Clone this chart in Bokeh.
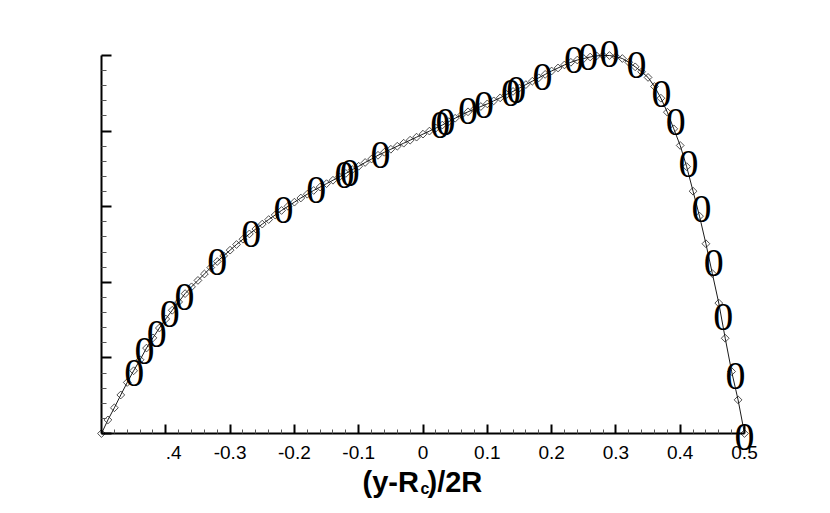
from bokeh.plotting import figure
from bokeh.models import ColumnDataSource, LabelSet, Label, FixedTicker, CustomJSTickFormatter
from bokeh.core.properties import value
from bokeh.embed import file_html
from bokeh.resources import INLINE
import math

# ---- data: computed profile (line with diamonds) ----
x_line = [-0.50, -0.49, -0.48, -0.47, -0.46, -0.45, -0.44, -0.43, -0.42, -0.41,
          -0.40, -0.39, -0.38, -0.37, -0.36, -0.35, -0.34, -0.33, -0.32, -0.31,
          -0.30, -0.29, -0.28, -0.27, -0.26, -0.25, -0.24, -0.23, -0.22, -0.21,
          -0.20, -0.19, -0.18, -0.17, -0.16, -0.15, -0.14, -0.13, -0.12, -0.11,
          -0.10, -0.09, -0.08, -0.07, -0.06, -0.05, -0.04, -0.03, -0.02, -0.01,
          0.00, 0.01, 0.02, 0.03, 0.04, 0.05, 0.06, 0.07, 0.08, 0.09,
          0.10, 0.11, 0.12, 0.13, 0.14, 0.15, 0.16, 0.17, 0.18, 0.19,
          0.20, 0.21, 0.22, 0.23, 0.24, 0.25, 0.26, 0.27, 0.28, 0.29,
          0.30, 0.31, 0.32, 0.33, 0.34, 0.35, 0.36, 0.37, 0.38, 0.39,
          0.40, 0.41, 0.42, 0.43, 0.44, 0.45, 0.46, 0.47, 0.48, 0.49, 0.50]
u_line = [0.000, 0.036, 0.068, 0.102, 0.135, 0.166, 0.195, 0.226, 0.253, 0.279,
          0.303, 0.326, 0.348, 0.370, 0.388, 0.405, 0.422, 0.439, 0.455, 0.470,
          0.485, 0.500, 0.514, 0.528, 0.541, 0.554, 0.566, 0.578, 0.590, 0.601,
          0.612, 0.623, 0.633, 0.643, 0.652, 0.661, 0.670, 0.679, 0.688, 0.698,
          0.707, 0.717, 0.726, 0.736, 0.744, 0.752, 0.760, 0.768, 0.776, 0.784,
          0.792, 0.800, 0.808, 0.816, 0.825, 0.834, 0.843, 0.851, 0.858, 0.865,
          0.872, 0.880, 0.888, 0.897, 0.905, 0.914, 0.923, 0.932, 0.941, 0.950,
          0.959, 0.967, 0.975, 0.982, 0.988, 0.992, 0.996, 0.999, 1.000, 1.000,
          0.997, 0.992, 0.982, 0.970, 0.957, 0.942, 0.918, 0.887, 0.850, 0.806,
          0.762, 0.706, 0.641, 0.575, 0.502, 0.423, 0.345, 0.252, 0.164, 0.089, 0.000]

# ---- data: symbol series drawn with the character "0" ----
x_sym = [-0.449, -0.433, -0.414, -0.394, -0.371, -0.320, -0.267, -0.217, -0.166,
         -0.122, -0.114, -0.066, 0.027, 0.035, 0.070, 0.095, 0.137, 0.145, 0.186,
         0.235, 0.257, 0.290, 0.332, 0.371, 0.393, 0.413, 0.433, 0.452, 0.467,
         0.486, 0.500]
u_sym = [0.159, 0.217, 0.262, 0.315, 0.360, 0.455, 0.529, 0.590, 0.643,
         0.685, 0.690, 0.738, 0.817, 0.823, 0.854, 0.870, 0.902, 0.910, 0.944,
         0.987, 0.995, 1.005, 0.974, 0.897, 0.823, 0.714, 0.593, 0.452, 0.307,
         0.151, -0.008]
sym_text = ["0"] * len(x_sym)

x_major = [-0.4, -0.3, -0.2, -0.1, 0.0, 0.1, 0.2, 0.3, 0.4, 0.5]
x_minor = [-0.48, -0.46, -0.44, -0.42, -0.38, -0.36, -0.34, -0.32, -0.28, -0.26,
           -0.24, -0.22, -0.18, -0.16, -0.14, -0.12, -0.08, -0.06, -0.04, -0.02,
           0.02, 0.04, 0.06, 0.08, 0.12, 0.14, 0.16, 0.18, 0.22, 0.24, 0.26, 0.28,
           0.32, 0.34, 0.36, 0.38, 0.42, 0.44, 0.46, 0.48]
y_major = [0.0, 0.2, 0.4, 0.6, 0.8, 1.0]
y_minor = [0.04, 0.08, 0.12, 0.16, 0.24, 0.28, 0.32, 0.36, 0.44, 0.48, 0.52, 0.56,
           0.64, 0.68, 0.72, 0.76, 0.84, 0.88, 0.92, 0.96]

# ---- layout (pixel positions in the figure) ----
W, H = 830, 513
AX_L, AX_R, AX_B, AX_T = 101, 744, 433, 55      # axis extents
FR_L, FR_R, FR_T, FR_B = 60, 790, 20, 513       # plotting frame
xpp = 1.0 / (AX_R - AX_L)
ypp = 1.0 / (AX_B - AX_T)
x_start = -0.5 - (AX_L - FR_L) * xpp
x_end = 0.5 + (FR_R - AX_R) * xpp
y_start = 0.0 - (FR_B - AX_B) * ypp
y_end = 1.0 + (AX_T - FR_T) * ypp


def xd(px):
    return -0.5 + (px - AX_L) * xpp


def yd(py):
    return (AX_B - py) * ypp


p = figure(width=W, height=H, output_backend="svg", toolbar_location=None,
           x_range=(x_start, x_end), y_range=(y_start, y_end), title=None,
           min_border_left=FR_L, min_border_right=W - FR_R,
           min_border_top=FR_T, min_border_bottom=H - FR_B)
p.outline_line_color = None
p.xgrid.visible = False
p.ygrid.visible = False
p.background_fill_color = "white"
p.border_fill_color = "white"

src_line = ColumnDataSource(dict(x=x_line, y=u_line))
p.line("x", "y", source=src_line, line_color="black", line_width=0.9)
p.scatter("x", "y", source=src_line, marker="square", angle=math.pi / 4, size=5.5,
          fill_color=None, line_color="#222222", line_width=0.8)

src_sym = ColumnDataSource(dict(x=x_sym, y=u_sym, t=sym_text))
p.add_layout(LabelSet(x="x", y="y", text="t", source=src_sym,
                      text_font=value("Liberation Serif"), text_font_size="40px",
                      text_align="center", text_baseline="middle", text_color="black"))

# x axis
xa = p.xaxis[0]
xa.fixed_location = 0.0
xa.bounds = (-0.5, 0.5)
xa.ticker = FixedTicker(ticks=x_major, minor_ticks=x_minor)
xa.formatter = CustomJSTickFormatter(code="""
if (Math.abs(tick) < 1e-9) return "0";
if (Math.abs(tick + 0.4) < 1e-9) return "\\u00a0\\u2007.4";
return tick.toFixed(1);
""")
xa.axis_line_width = 2
xa.major_tick_in = 9
xa.major_tick_out = 0
xa.major_tick_line_width = 2
xa.minor_tick_in = 4
xa.minor_tick_out = 0
xa.minor_tick_line_width = 1
xa.minor_tick_line_color = "#555555"
xa.major_label_standoff = 8
xa.major_label_text_font = "Liberation Sans"
xa.major_label_text_font_size = "19px"
xa.major_label_text_color = "black"

# y axis
ya = p.yaxis[0]
ya.fixed_location = -0.5
ya.bounds = (0.0, 1.0)
ya.ticker = FixedTicker(ticks=y_major, minor_ticks=y_minor)
ya.axis_line_width = 2
ya.major_tick_in = 10
ya.major_tick_out = 0
ya.major_tick_line_width = 2
ya.minor_tick_in = 5
ya.minor_tick_out = 0
ya.minor_tick_line_width = 1
ya.minor_tick_line_color = "#555555"
ya.major_label_text_color = None

# axis title (y-R_c)/2R
title_font = "Liberation Sans"
p.add_layout(Label(x=xd(362), y=yd(481), text="(y-R", text_font=title_font,
                   text_font_size="29px", text_font_style="bold", text_color="black",
                   text_align="left", text_baseline="alphabetic"))
p.add_layout(Label(x=xd(420), y=yd(488), text="c", text_font=title_font,
                   text_font_size="16px", text_font_style="bold", text_color="black",
                   text_align="left", text_baseline="alphabetic"))
p.add_layout(Label(x=xd(427), y=yd(481), text=")/2R", text_font=title_font,
                   text_font_size="29px", text_font_style="bold", text_color="black",
                   text_align="left", text_baseline="alphabetic"))

open("out.html", "w").write(file_html(p, INLINE))
